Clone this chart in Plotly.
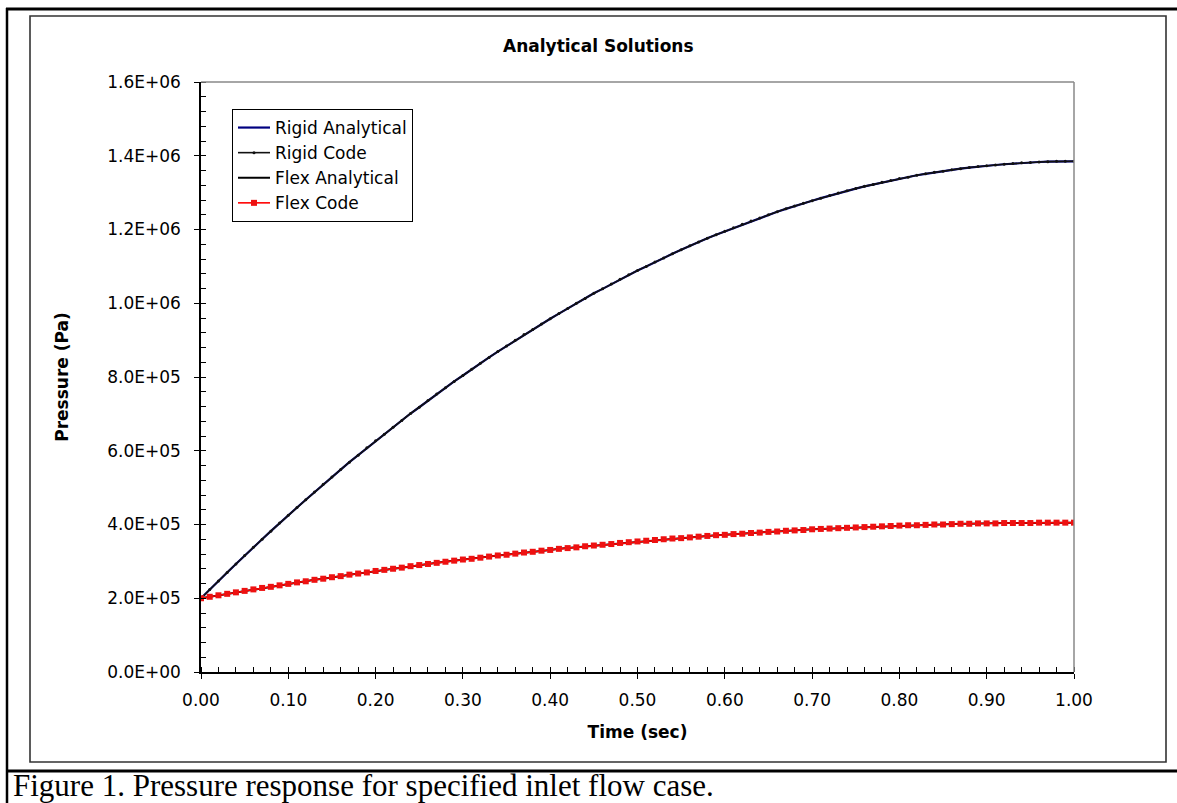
import plotly.graph_objects as go

# ---- data ----
time_s = [round(i * 0.01, 2) for i in range(101)]

rigid_kpa = [200, 224, 247, 270, 293, 316, 338, 360, 382, 404,
             425, 446, 467, 488, 509, 529, 549, 569, 588, 608,
             627, 645, 664, 682, 701, 718, 736, 754, 771, 788,
             804, 821, 837, 853, 869, 884, 900, 915, 929, 944,
             958, 972, 986, 1000, 1013, 1027, 1039, 1052, 1065, 1077,
             1089, 1100, 1112, 1123, 1134, 1145, 1156, 1166, 1176, 1186,
             1195, 1205, 1214, 1223, 1231, 1240, 1248, 1256, 1264, 1271,
             1278, 1285, 1292, 1299, 1305, 1311, 1317, 1322, 1328, 1333,
             1338, 1342, 1347, 1351, 1355, 1358, 1362, 1365, 1368, 1371,
             1373, 1375, 1377, 1379, 1381, 1382, 1383, 1384, 1385, 1385,
             1385]

flex_kpa = [200, 204, 208, 212, 216, 220, 224, 228, 231, 235,
            239, 243, 246, 250, 253, 257, 260, 264, 267, 270,
            274, 277, 280, 283, 287, 290, 293, 296, 299, 302,
            305, 307, 310, 313, 316, 318, 321, 324, 326, 329,
            331, 334, 336, 338, 341, 343, 345, 347, 350, 352,
            354, 356, 358, 360, 362, 363, 365, 367, 369, 371,
            372, 374, 375, 377, 378, 380, 381, 383, 384, 385,
            387, 388, 389, 390, 391, 392, 393, 394, 395, 396,
            397, 398, 398, 399, 400, 400, 401, 402, 402, 403,
            403, 403, 404, 404, 404, 404, 405, 405, 405, 405,
            405]

rigid_pa = [v * 1000 for v in rigid_kpa]
flex_pa = [v * 1000 for v in flex_kpa]

x_tickvals = [0.0, 0.1, 0.2, 0.3, 0.4, 0.5, 0.6, 0.7, 0.8, 0.9, 1.0]
x_ticktext = ["0.00", "0.10", "0.20", "0.30", "0.40", "0.50",
              "0.60", "0.70", "0.80", "0.90", "1.00"]
y_tickvals = [0, 200000, 400000, 600000, 800000, 1000000,
              1200000, 1400000, 1600000]
y_ticktext = ["0.0E+00", "2.0E+05", "4.0E+05", "6.0E+05", "8.0E+05",
              "1.0E+06", "1.2E+06", "1.4E+06", "1.6E+06"]

title_text = "Analytical Solutions"
x_title = "Time (sec)"
y_title = "Pressure (Pa)"
caption = "Figure 1. Pressure response for specified inlet flow case."

# ---- layout geometry ----
W, H = 1177, 803
L, R, T, B = 201, 1074, 82, 672
FONT = "DejaVu Sans"
FS = 17

fig = go.Figure()
fig.add_trace(go.Scatter(x=time_s, y=rigid_pa, name="Rigid Analytical",
                         mode="lines", line=dict(color="#000080", width=2.2)))
fig.add_trace(go.Scatter(x=time_s, y=rigid_pa, name="Rigid Code",
                         mode="lines+markers", line=dict(color="#111111", width=1.6),
                         marker=dict(symbol="circle", size=3, color="#111111")))
fig.add_trace(go.Scatter(x=time_s, y=flex_pa, name="Flex Analytical",
                         mode="lines", line=dict(color="#000000", width=2)))
fig.add_trace(go.Scatter(x=time_s, y=flex_pa, name="Flex Code",
                         mode="lines+markers", line=dict(color="#FF0000", width=1.6),
                         marker=dict(symbol="square", size=6, color="#EE1111")))

axis_common = dict(showgrid=False, zeroline=False, showline=True, automargin=False,
                   linecolor="black", linewidth=1.5, ticks="outside",
                   ticklen=5, tickcolor="black", tickwidth=1.2,
                   tickfont=dict(family=FONT, size=FS, color="black"))

fig.update_layout(
    width=W, height=H,
    margin=dict(l=0, r=0, t=0, b=0, autoexpand=False),
    paper_bgcolor="white", plot_bgcolor="rgba(0,0,0,0)",
    showlegend=True,
    legend=dict(x=232 / W, y=1 - 109 / H, xanchor="left", yanchor="top",
                bordercolor="black", borderwidth=1, bgcolor="white",
                font=dict(family=FONT, size=FS, color="black"),
                tracegroupgap=0, itemwidth=32),
    xaxis=dict(domain=[L / W, R / W], range=[0, 1],
               tickvals=x_tickvals, ticktext=x_ticktext,
               minor=dict(dtick=0.02, ticks="inside", ticklen=5,
                          tickcolor="black", tickwidth=1),
               ticklabelstandoff=7,
               title=dict(text="<b>" + x_title + "</b>", standoff=17,
                          font=dict(family=FONT, size=FS, color="black")),
               **axis_common),
    yaxis=dict(domain=[1 - B / H, 1 - T / H], range=[0, 1600000],
               tickvals=y_tickvals, ticktext=y_ticktext,
               minor=dict(dtick=40000, ticks="inside", ticklen=5,
                          tickcolor="black", tickwidth=1),
               ticklabelstandoff=10,
               title=dict(text="<b>" + y_title + "</b>", standoff=34,
                          font=dict(family=FONT, size=FS, color="black")),
               **axis_common),
)

shapes = [
    # plot area border (gray top/right)
    dict(type="line", xref="paper", yref="paper", x0=L / W, x1=R / W,
         y0=1 - T / H, y1=1 - T / H, line=dict(color="#888888", width=1.5)),
    dict(type="line", xref="paper", yref="paper", x0=R / W, x1=R / W,
         y0=1 - T / H, y1=1 - B / H, line=dict(color="#888888", width=1.5)),
    # chart frame
    dict(type="rect", xref="paper", yref="paper", x0=30 / W, x1=1166 / W,
         y0=1 - 762 / H, y1=1 - 16 / H, line=dict(color="#333333", width=1.6)),
    # table frame around chart + caption
    dict(type="line", xref="paper", yref="paper", x0=6 / W, x1=1,
         y0=1 - 9 / H, y1=1 - 9 / H, line=dict(color="black", width=3)),
    dict(type="line", xref="paper", yref="paper", x0=7 / W, x1=7 / W,
         y0=0, y1=1 - 8 / H, line=dict(color="black", width=2.5)),
    dict(type="line", xref="paper", yref="paper", x0=6 / W, x1=1,
         y0=1 - 771 / H, y1=1 - 771 / H, line=dict(color="black", width=3)),
]
fig.update_layout(shapes=shapes)

fig.add_annotation(text="<b>" + title_text + "</b>", xref="paper", yref="paper",
                   x=598 / W, y=1 - 46 / H, xanchor="center", yanchor="middle",
                   showarrow=False, font=dict(family=FONT, size=FS, color="black"))
fig.add_annotation(text=caption, xref="paper", yref="paper",
                   x=11 / W, y=1 - 785 / H, xanchor="left", yanchor="middle",
                   showarrow=False,
                   font=dict(family="Liberation Serif", size=31, color="black"))

fig.write_html(
    "out.html",
    config={"displayModeBar": False},
    post_script="document.body.style.margin='0';"
                "document.documentElement.style.overflow='hidden';",
)
